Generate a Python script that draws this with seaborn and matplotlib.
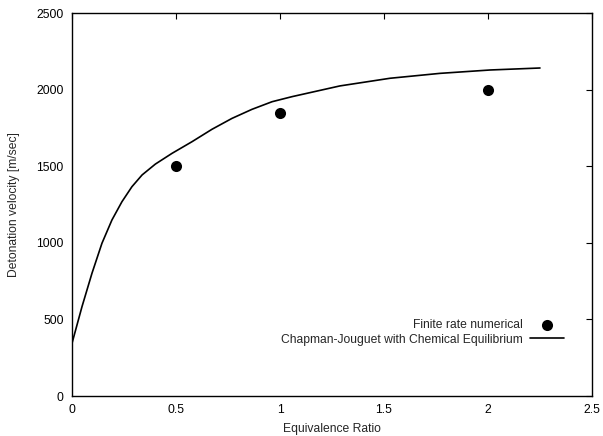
import matplotlib
matplotlib.use("Agg")
import matplotlib.pyplot as plt
import seaborn as sns
import pandas as pd

# Chapman-Jouguet curve
cj_phi = [0.0, 0.048, 0.096, 0.144, 0.192, 0.240, 0.288, 0.337, 0.401, 0.481, 0.577,
          0.673, 0.769, 0.865, 0.962, 1.058, 1.288, 1.529, 1.769, 2.01, 2.25]
cj_vel = [344, 583, 801, 997, 1149, 1268, 1366, 1443, 1514, 1584, 1660,
          1741, 1812, 1871, 1921, 1954, 2024, 2074, 2106, 2128, 2141]

# Finite rate numerical points
fr_phi = [0.5, 1.0, 2.0]
fr_vel = [1500, 1850, 2000]

x_ticks = [0, 0.5, 1, 1.5, 2, 2.5]
x_tick_labels = ["0", "0.5", "1", "1.5", "2", "2.5"]
y_ticks = [0, 500, 1000, 1500, 2000, 2500]

sns.set_style("white")
plt.rcParams['font.family'] = ['Liberation Sans', 'DejaVu Sans']

fig = plt.figure(figsize=(6.03, 4.36), dpi=100)
ax = fig.add_axes([72/603, 40/436, 520/603, 383/436])

df_cj = pd.DataFrame({"phi": cj_phi, "vel": cj_vel})
df_fr = pd.DataFrame({"phi": fr_phi, "vel": fr_vel})

sns.scatterplot(data=df_fr, x="phi", y="vel", ax=ax, color="black", s=64,
                marker="o", edgecolor="black", linewidth=0, label="Finite rate numerical", zorder=3)
sns.lineplot(data=df_cj, x="phi", y="vel", ax=ax, color="black", linewidth=1.2,
             sort=False, estimator=None, label="Chapman-Jouguet with Chemical Equilibrium")

ax.set_xlim(0, 2.5)
ax.set_ylim(0, 2500)
ax.set_xticks(x_ticks)
ax.set_xticklabels(x_tick_labels)
ax.set_yticks(y_ticks)
ax.tick_params(direction="in", length=4, width=0.8, top=True, right=True,
               labelsize=8.7, colors="black", pad=6)
for s in ax.spines.values():
    s.set_color("black")
    s.set_linewidth(1.0)

ax.set_xlabel("Equivalence Ratio", fontsize=8.7, labelpad=5)
ax.set_ylabel("Detonation velocity [m/sec]", fontsize=8.7, labelpad=12)

leg = ax.legend(loc="lower right", bbox_to_anchor=(0.955, 0.119), frameon=False,
                fontsize=8.7, markerfirst=False, handlelength=2.8, handletextpad=0.6,
                labelspacing=0.2, borderaxespad=0)
for t in leg.get_texts():
    t.set_ha("right")

fig.savefig("out.png", dpi=100)
